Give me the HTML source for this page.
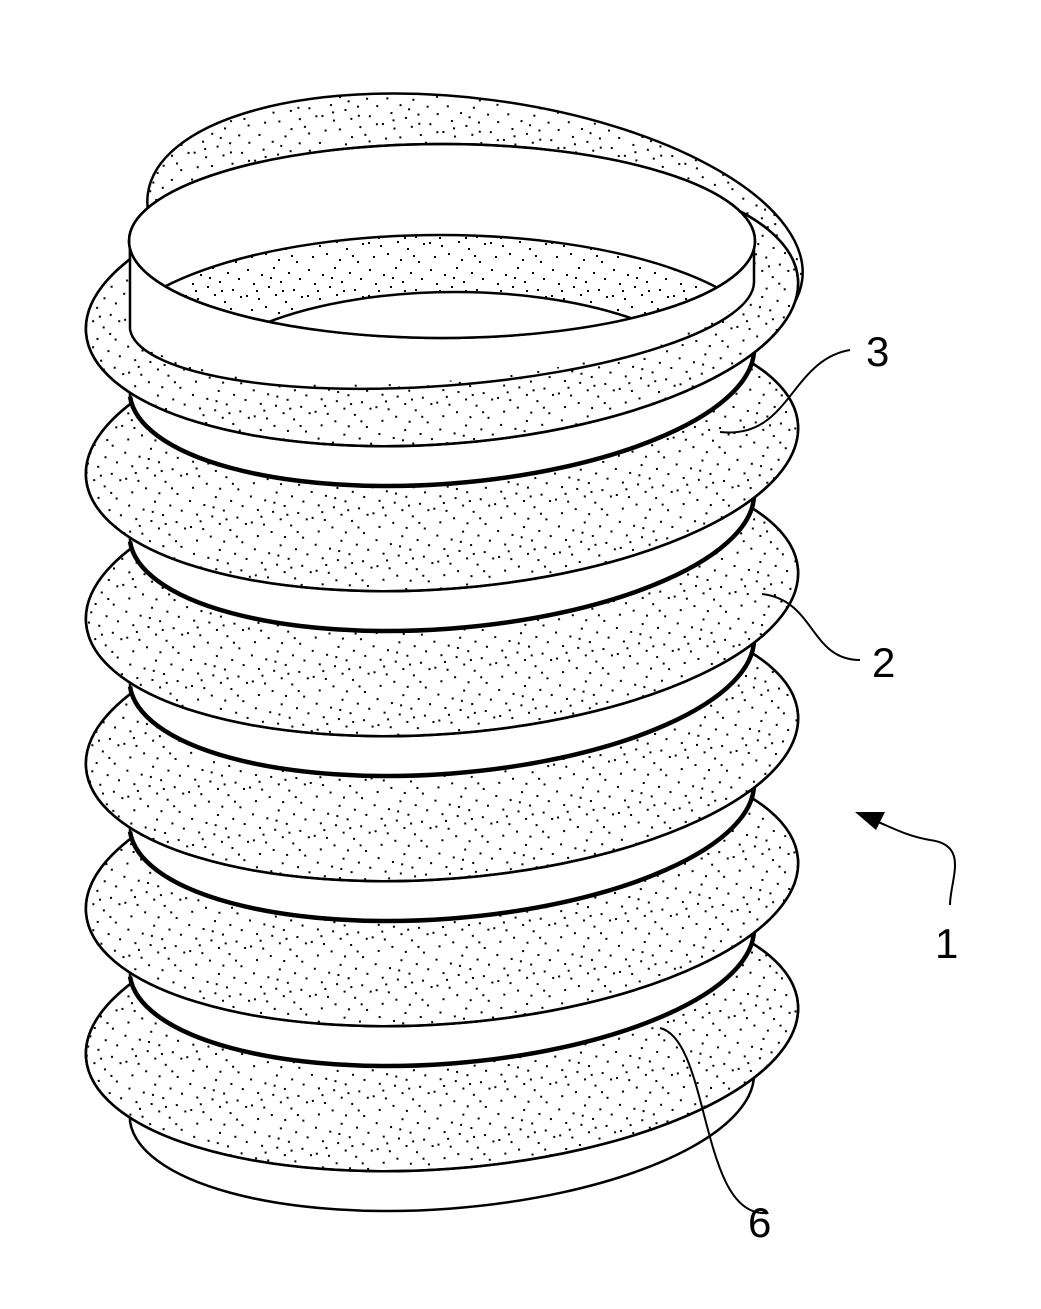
<!DOCTYPE html>
<html><head><meta charset="utf-8"><style>html,body{margin:0;padding:0;background:#fff}svg{display:block}</style></head>
<body>
<svg width="1041" height="1309" viewBox="0 0 1041 1309" xmlns="http://www.w3.org/2000/svg">
<defs>
<pattern id="d" width="61" height="53" patternUnits="userSpaceOnUse">
<g fill="#000">
<rect x="3" y="4" width="2" height="2"/><rect x="17" y="9" width="2" height="2"/><rect x="29" y="2" width="2" height="2"/><rect x="44" y="7" width="2" height="2"/><rect x="55" y="13" width="2" height="2"/>
<rect x="9" y="18" width="2" height="2"/><rect x="24" y="21" width="2" height="2"/><rect x="36" y="16" width="2" height="2"/><rect x="49" y="24" width="2" height="2"/>
<rect x="2" y="30" width="2" height="2"/><rect x="14" y="33" width="2" height="2"/><rect x="31" y="29" width="2" height="2"/><rect x="41" y="36" width="2" height="2"/><rect x="57" y="31" width="2" height="2"/>
<rect x="7" y="44" width="2" height="2"/><rect x="21" y="41" width="2" height="2"/><rect x="34" y="47" width="2" height="2"/><rect x="47" y="43" width="2" height="2"/><rect x="26" y="12" width="2" height="2"/><rect x="52" y="49" width="2" height="2"/>
<rect x="12" y="25" width="2" height="2"/><rect x="38" y="25" width="2" height="2"/>
</g></pattern>
<clipPath id="op"><ellipse cx="442" cy="241" rx="313" ry="97"/></clipPath>
</defs>
<g stroke="#000" stroke-width="2.5" fill="none">
<!-- top outer strip -->
<ellipse cx="475" cy="237" rx="330" ry="138" transform="rotate(7.5 475 237)" fill="url(#d)"/>

<!-- segment 5 (bottom) -->
<path d="M130,1031 L130,1121.5 A313,114,-4.3,0,0,754,1074.5 L754,971 Z" fill="#fff" stroke="none"/>
<path d="M130,1031 L130,1121.5 A313,114,-4.3,0,0,754,1074.5 L754,971"/>
<ellipse cx="442" cy="1031" rx="357" ry="138" transform="rotate(-4.3 442 1031)" fill="#fff"/>
<ellipse cx="442" cy="1031" rx="357" ry="138" transform="rotate(-4.3 442 1031)" fill="url(#d)"/>

<!-- segment 4 -->
<path d="M130,886 L130,976.5 A313,114,-4.3,0,0,754,929.5 L754,826 Z" fill="#fff" stroke="none"/>
<path d="M130,886 L130,976.5 M754,929.5 L754,826"/>
<path d="M130,976.5 A313,114,-4.3,0,0,754,929.5" stroke-width="4.5"/>
<ellipse cx="442" cy="886" rx="357" ry="138" transform="rotate(-4.3 442 886)" fill="#fff"/>
<ellipse cx="442" cy="886" rx="357" ry="138" transform="rotate(-4.3 442 886)" fill="url(#d)"/>

<!-- segment 3 -->
<path d="M130,741 L130,831.5 A313,114,-4.3,0,0,754,784.5 L754,681 Z" fill="#fff" stroke="none"/>
<path d="M130,741 L130,831.5 M754,784.5 L754,681"/>
<path d="M130,831.5 A313,114,-4.3,0,0,754,784.5" stroke-width="4.5"/>
<ellipse cx="442" cy="741" rx="357" ry="138" transform="rotate(-4.3 442 741)" fill="#fff"/>
<ellipse cx="442" cy="741" rx="357" ry="138" transform="rotate(-4.3 442 741)" fill="url(#d)"/>

<!-- segment 2 -->
<path d="M130,596 L130,686.5 A313,114,-4.3,0,0,754,639.5 L754,536 Z" fill="#fff" stroke="none"/>
<path d="M130,596 L130,686.5 M754,639.5 L754,536"/>
<path d="M130,686.5 A313,114,-4.3,0,0,754,639.5" stroke-width="4.5"/>
<ellipse cx="442" cy="596" rx="357" ry="138" transform="rotate(-4.3 442 596)" fill="#fff"/>
<ellipse cx="442" cy="596" rx="357" ry="138" transform="rotate(-4.3 442 596)" fill="url(#d)"/>

<!-- segment 1 -->
<path d="M130,451 L130,541.5 A313,114,-4.3,0,0,754,494.5 L754,391 Z" fill="#fff" stroke="none"/>
<path d="M130,451 L130,541.5 M754,494.5 L754,391"/>
<path d="M130,541.5 A313,114,-4.3,0,0,754,494.5" stroke-width="4.5"/>
<ellipse cx="442" cy="451" rx="357" ry="138" transform="rotate(-4.3 442 451)" fill="#fff"/>
<ellipse cx="442" cy="451" rx="357" ry="138" transform="rotate(-4.3 442 451)" fill="url(#d)"/>

<!-- segment 0 -->
<path d="M130,241 L130,396.5 A313,114,-4.3,0,0,754,349.5 L754,241 Z" fill="#fff" stroke="none"/>
<path d="M130,241 L130,396.5 M754,349.5 L754,241"/>
<path d="M130,396.5 A313,114,-4.3,0,0,754,349.5" stroke-width="4.5"/>
<ellipse cx="442" cy="306" rx="357" ry="138" transform="rotate(-4.3 442 306)" fill="#fff"/>
<ellipse cx="442" cy="306" rx="357" ry="138" transform="rotate(-4.3 442 306)" fill="url(#d)"/>
<path d="M131,241 L131,329 A313,82,-4.3,0,0,753,283 L753,241 Z" fill="#fff" stroke="none"/>
<path d="M130,241 L130,329.5 M754,241 L754,282.5"/>
<path d="M130,329.5 A313,82,-4.3,0,0,754,282.5"/>

<!-- opening -->
<ellipse cx="442" cy="241" rx="313" ry="97" fill="#fff"/>
<g clip-path="url(#op)">
<ellipse cx="440" cy="355" rx="335" ry="120" fill="url(#d)"/>
<ellipse cx="455" cy="400" rx="270" ry="108" fill="#fff"/>
</g>
<ellipse cx="442" cy="241" rx="313" ry="97"/>

<!-- leaders -->
<path d="M720,432 C790,440 790,360 850,350" stroke-width="2"/>
<path d="M762,594 C815,600 810,660 860,660" stroke-width="2"/>
<path d="M660,1028 C710,1040 700,1215 765,1213" stroke-width="2"/>
<path d="M950,905 C950,880 970,845 930,840 C905,836 890,826 868,818" stroke-width="2"/>
</g>
<polygon points="855,812 885,812 876,830" fill="#000"/>
<g font-family="Liberation Sans, sans-serif" font-size="42" fill="#000">
<text x="866" y="366">3</text>
<text x="872" y="677">2</text>
<text x="935" y="958">1</text>
<text x="748" y="1237">6</text>
</g>
</svg>
</body></html>
